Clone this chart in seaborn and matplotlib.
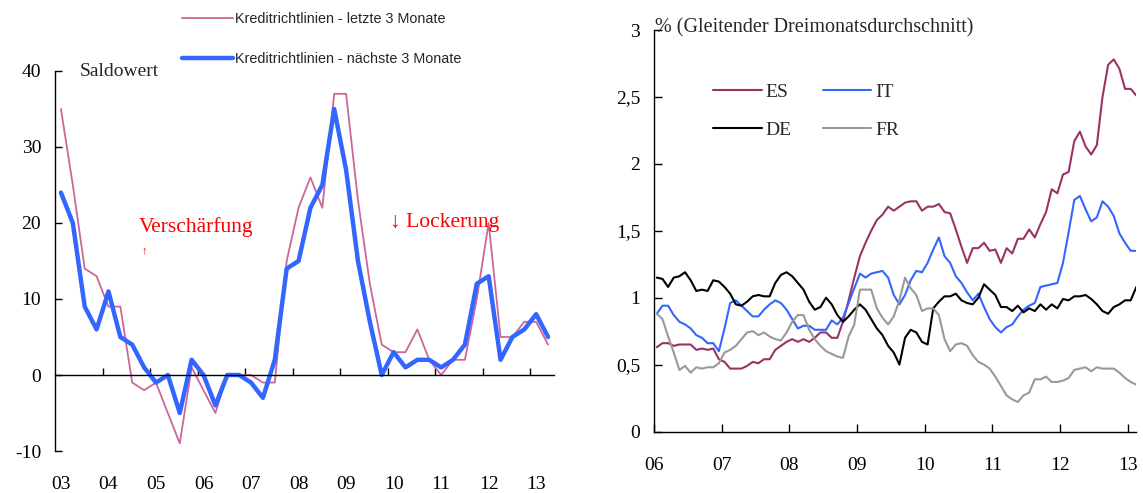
import numpy as np
import pandas as pd
import seaborn as sns
import matplotlib
matplotlib.use("Agg")
import matplotlib.pyplot as plt
from matplotlib.lines import Line2D

# ---- data ----
# left: Saldowert, quarterly 2003Q1 - 2013Q2
letzte_3m = [35, 25, 14, 13, 9, 9, -1, -2, -1, -5, -9, 1, -2, -5, 0, 0, 0, -1, -1, 15, 22,
             26, 22, 37, 37, 23, 12, 4, 3, 3, 6, 2, 0, 2, 2, 10, 20, 5, 5, 7, 7, 4]
naechste_3m = [24, 20, 9, 6, 11, 5, 4, 1, -1, 0, -5, 2, 0, -4, 0, 0, -1, -3, 2, 14, 15,
               22, 25, 35, 27, 15, 7, 0, 3, 1, 2, 2, 1, 2, 4, 12, 13, 2, 5, 6, 8, 5]
left_years = list(range(2003, 2014))
left_labels = ["03", "04", "05", "06", "07", "08", "09", "10", "11", "12", "13"]

# right: monthly, Jan 2006 - Feb 2013, % (3-month moving average)
es = [0.63, 0.66, 0.66, 0.64, 0.65, 0.65, 0.65, 0.61, 0.62, 0.61, 0.62, 0.54, 0.52, 0.47,
      0.47, 0.47, 0.49, 0.52, 0.51, 0.54, 0.54, 0.61, 0.64, 0.67, 0.69, 0.67, 0.69, 0.67,
      0.70, 0.74, 0.74, 0.70, 0.70, 0.82, 0.98, 1.15, 1.31, 1.41, 1.50, 1.58, 1.62, 1.68,
      1.65, 1.68, 1.71, 1.72, 1.72, 1.65, 1.68, 1.68, 1.70, 1.64, 1.63, 1.51, 1.38, 1.26,
      1.37, 1.37, 1.41, 1.35, 1.36, 1.26, 1.37, 1.33, 1.44, 1.44, 1.51, 1.45, 1.55, 1.64,
      1.81, 1.78, 1.92, 1.94, 2.17, 2.24, 2.13, 2.07, 2.14, 2.50, 2.74, 2.78, 2.71, 2.56,
      2.56, 2.51]
it = [0.88, 0.94, 0.94, 0.87, 0.82, 0.80, 0.77, 0.72, 0.70, 0.66, 0.66, 0.60, 0.77, 0.96,
      0.98, 0.94, 0.90, 0.86, 0.86, 0.91, 0.95, 0.98, 0.96, 0.91, 0.84, 0.77, 0.79, 0.79,
      0.76, 0.76, 0.76, 0.83, 0.80, 0.85, 0.96, 1.07, 1.18, 1.15, 1.18, 1.19, 1.20, 1.15,
      1.02, 0.95, 1.02, 1.13, 1.20, 1.19, 1.26, 1.36, 1.45, 1.31, 1.26, 1.16, 1.11, 1.04,
      0.98, 1.03, 0.93, 0.84, 0.78, 0.74, 0.78, 0.80, 0.86, 0.91, 0.94, 0.96, 1.08, 1.09,
      1.10, 1.11, 1.26, 1.49, 1.73, 1.76, 1.66, 1.57, 1.60, 1.72, 1.68, 1.61, 1.48, 1.41,
      1.35, 1.35]
de = [1.15, 1.14, 1.08, 1.15, 1.16, 1.19, 1.13, 1.05, 1.06, 1.05, 1.13, 1.12, 1.08, 1.03,
      0.95, 0.94, 0.97, 1.01, 1.02, 1.01, 1.01, 1.11, 1.17, 1.19, 1.16, 1.11, 1.06, 0.97,
      0.91, 0.93, 1.00, 0.95, 0.87, 0.82, 0.86, 0.91, 0.95, 0.91, 0.84, 0.77, 0.72, 0.64,
      0.59, 0.50, 0.70, 0.76, 0.74, 0.67, 0.65, 0.92, 0.97, 1.01, 1.01, 1.03, 0.98, 0.96,
      0.95, 1.00, 1.10, 1.06, 1.02, 0.93, 0.93, 0.90, 0.94, 0.89, 0.92, 0.90, 0.95, 0.91,
      0.95, 0.92, 0.99, 0.98, 1.01, 1.01, 1.02, 0.99, 0.95, 0.90, 0.88, 0.93, 0.95, 0.98,
      0.98, 1.08]
fr = [0.88, 0.84, 0.71, 0.59, 0.46, 0.49, 0.44, 0.48, 0.47, 0.48, 0.48, 0.51, 0.59, 0.61,
      0.64, 0.69, 0.74, 0.75, 0.72, 0.74, 0.71, 0.69, 0.68, 0.74, 0.82, 0.87, 0.87, 0.76,
      0.69, 0.64, 0.60, 0.58, 0.56, 0.55, 0.71, 0.80, 1.06, 1.06, 1.06, 0.92, 0.85, 0.80,
      0.86, 0.98, 1.15, 1.07, 1.02, 0.90, 0.92, 0.92, 0.87, 0.69, 0.60, 0.65, 0.66, 0.64,
      0.57, 0.52, 0.50, 0.47, 0.41, 0.34, 0.27, 0.24, 0.22, 0.27, 0.29, 0.39, 0.39, 0.41,
      0.37, 0.37, 0.38, 0.40, 0.46, 0.47, 0.48, 0.45, 0.48, 0.47, 0.47, 0.47, 0.44, 0.40,
      0.37, 0.35]
countries = ["ES", "IT", "DE", "FR"]
right_years = list(range(2006, 2014))
right_labels = ["06", "07", "08", "09", "10", "11", "12", "13"]
right_yticks = [0, 0.5, 1, 1.5, 2, 2.5, 3]
right_ylabels = ["0", "0,5", "1", "1,5", "2", "2,5", "3"]

PINK = "#CC6699"
BLUE = "#3366FF"
palette = {"ES": "#993366", "IT": "#3366FF", "DE": "#000000", "FR": "#999999"}

# ---- frames ----
qx = 2003 + np.arange(len(naechste_3m)) * 0.25
left_df = pd.DataFrame({"x": qx, "letzte": letzte_3m, "naechste": naechste_3m})

mx = 2006 + (np.arange(len(es)) + 0.5) / 12
right_df = pd.concat([pd.DataFrame({"x": mx, "v": vals, "land": c})
                      for c, vals in zip(countries, [es, it, de, fr])])

sns.set_theme(style="white")
SERIF = ["Liberation Serif", "DejaVu Serif"]
SANS = ["Liberation Sans", "DejaVu Sans"]
plt.rcParams["font.family"] = SERIF
plt.rcParams["axes.unicode_minus"] = False

W, H = 1143, 493
fig = plt.figure(figsize=(W / 100, H / 100), dpi=100)


def px(x, y):
    return x / W, 1 - y / H


# ---- left panel ----
ax1 = fig.add_axes([55 / W, 1 - 451 / H, 499 / W, 380 / H])
sns.lineplot(data=left_df, x="x", y="letzte", color=PINK, linewidth=1.3, ax=ax1)
sns.lineplot(data=left_df, x="x", y="naechste", color=BLUE, linewidth=3.2, ax=ax1)
ax1.set_xlim(2002.875, 2013.375)
ax1.set_ylim(-10, 40)
ax1.set_xlabel("")
ax1.set_ylabel("")
for s in ["right", "bottom"]:
    ax1.spines[s].set_visible(False)
ax1.spines["top"].set_position(("data", 0))
for s in ["top", "left"]:
    ax1.spines[s].set_color("black")
    ax1.spines[s].set_linewidth(1.0)
ax1.set_yticks([-10, 0, 10, 20, 30, 40])
ax1.tick_params(axis="y", direction="in", length=5, width=1, pad=10, labelsize=14,
                left=True, colors="black")
ax1.set_xticks(left_years)
ax1.set_xticklabels(left_labels)
ax1.set_xticks([y - 0.125 for y in left_years[1:]], minor=True)
ax1.tick_params(axis="x", which="major", bottom=True, top=False, length=0, pad=18,
                labelsize=14, colors="black")
ax1.tick_params(axis="x", which="minor", bottom=False, top=True, direction="out",
                length=5, width=1, color="black")

fig.text(*px(80, 72), "Saldowert", fontsize=14, va="center", ha="left")
fig.text(*px(139, 227), "Verschärfung", fontsize=15.5, color="red", va="center", ha="left")
fig.text(*px(144, 251), "↑", fontsize=8, color="red", va="center", ha="center")
fig.text(*px(390, 223), "↓ Lockerung", fontsize=15.5, color="red", va="center", ha="left")

lh = [Line2D([], [], color=PINK, linewidth=1.3), Line2D([], [], color=BLUE, linewidth=3.2)]
fig.legend(lh, ["Kreditrichtlinien - letzte 3 Monate", "Kreditrichtlinien - nächste 3 Monate"],
           loc="upper left", bbox_to_anchor=px(182, 12), bbox_transform=fig.transFigure,
           frameon=False, borderpad=0, borderaxespad=0, handlelength=3.5,
           handletextpad=0.15, labelspacing=1.8, prop={"family": SANS, "size": 10.4})

# ---- right panel ----
ax2 = fig.add_axes([654 / W, 1 - 431.5 / H, 482 / W, 401.5 / H])
sns.lineplot(data=right_df, x="x", y="v", hue="land", hue_order=countries,
             palette=palette, linewidth=1.5, legend=False, ax=ax2)
ax2.set_xlim(2006, 2013.12)
ax2.set_ylim(0, 3)
ax2.set_xlabel("")
ax2.set_ylabel("")
for s in ["right", "top"]:
    ax2.spines[s].set_visible(False)
for s in ["left", "bottom"]:
    ax2.spines[s].set_color("black")
    ax2.spines[s].set_linewidth(1.0)
ax2.set_yticks(right_yticks)
ax2.set_yticklabels(right_ylabels)
ax2.set_xticks(right_years)
ax2.set_xticklabels(right_labels)
ax2.tick_params(axis="y", direction="in", length=6, width=1, pad=10, labelsize=14,
                left=True, colors="black")
ax2.tick_params(axis="x", direction="in", length=6, width=1, pad=18, labelsize=14,
                bottom=True, colors="black")

fig.text(*px(655, 28), "% (Gleitender Dreimonatsdurchschnitt)", fontsize=14.5,
         va="center", ha="left")

order = ["ES", "DE", "IT", "FR"]
rh = [Line2D([], [], color=palette[c], linewidth=1.5) for c in order]
ax2.legend(rh, order, ncol=2, loc="upper left", bbox_to_anchor=px(713, 83),
           bbox_transform=fig.transFigure, frameon=False, borderpad=0, borderaxespad=0,
           handlelength=2.5, handletextpad=0.2, columnspacing=1.6, labelspacing=1.06,
           prop={"family": SERIF, "size": 14})

fig.savefig("out.png", dpi=100, facecolor="white")
